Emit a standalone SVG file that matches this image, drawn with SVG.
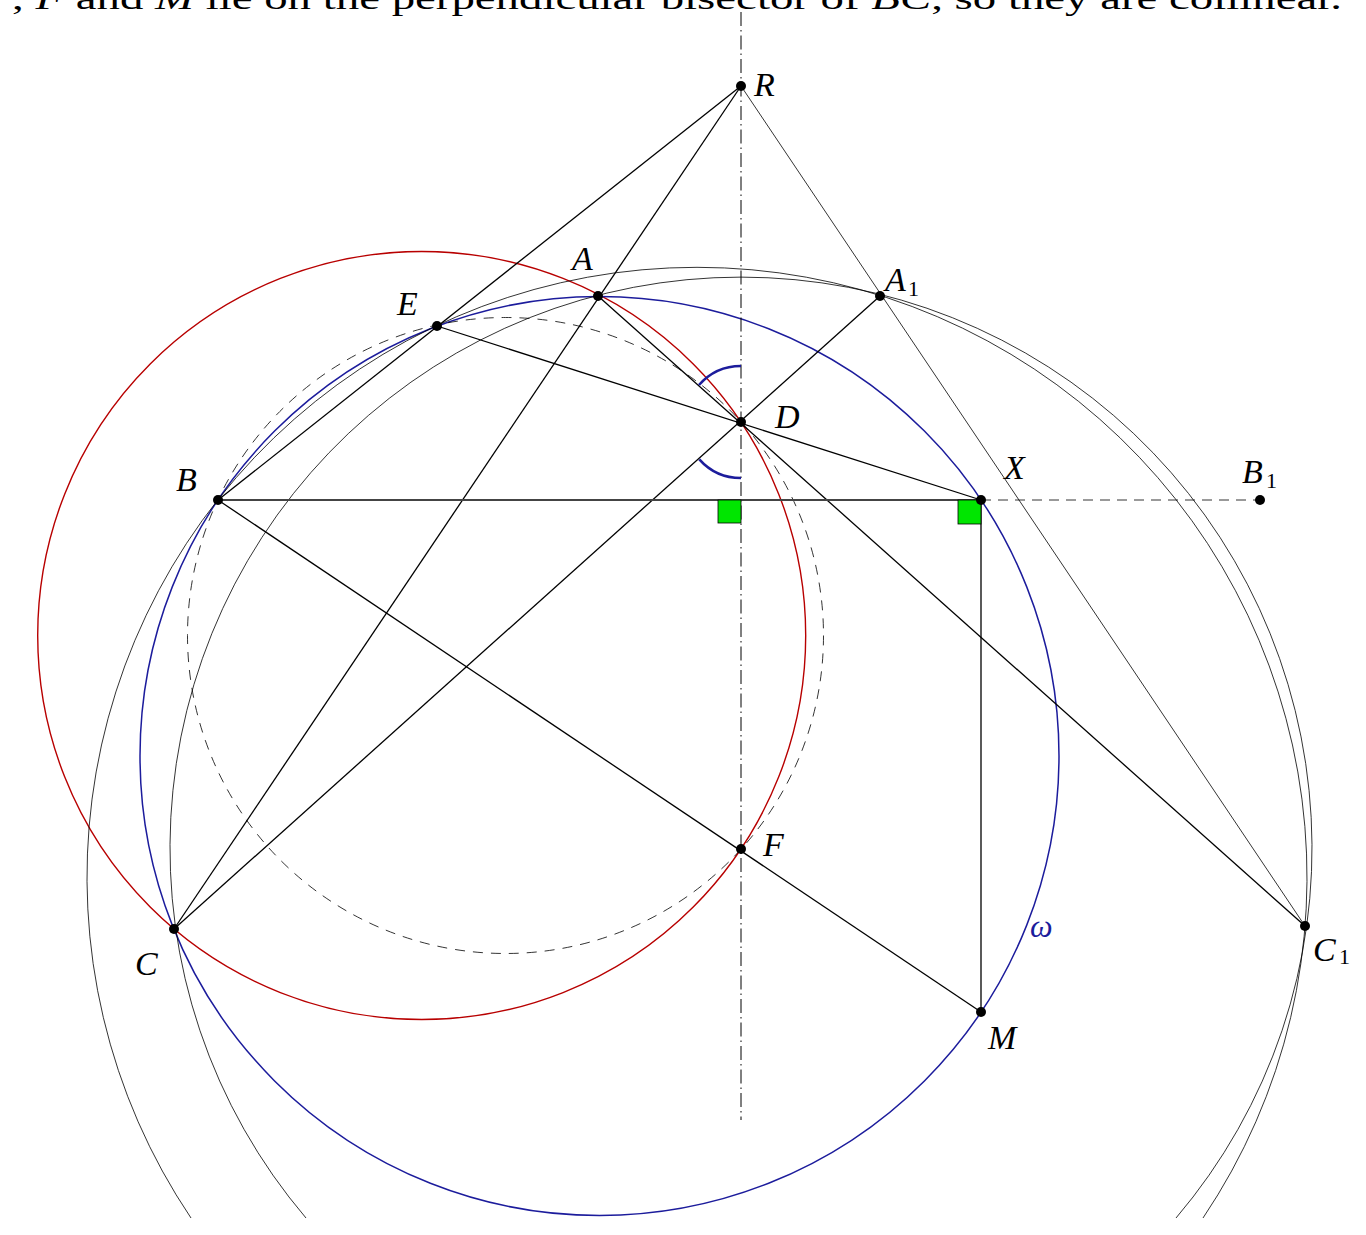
<svg xmlns="http://www.w3.org/2000/svg" width="1366" height="1235" viewBox="0 0 1366 1235">
<style>
.ln{stroke:#000;stroke-width:1.3;fill:none}
.thin{stroke:#000;stroke-width:0.8;fill:none}
.pt{fill:#000}
.lb{font-family:"Liberation Serif",serif;font-style:italic;font-size:34px;fill:#000}
.sub{font-family:"Liberation Serif",serif;font-size:22px;fill:#000}
.ra{fill:#00e600;stroke:#000;stroke-width:0.8}
.ang{stroke:#1c1c9c;stroke-width:2.6;fill:none}
</style>
<rect width="1366" height="1235" fill="#fff"/>
<text x="12" y="9" font-family="Liberation Serif, serif" font-size="31" textLength="1330" lengthAdjust="spacingAndGlyphs">, <tspan font-style="italic">F</tspan> and <tspan font-style="italic">M</tspan> lie on the perpendicular bisector of <tspan font-style="italic">BC</tspan>, so they are collinear.</text>
<g id="circles">
<circle id="red-circle" cx="421.7" cy="635.5" r="384" fill="none" stroke="#b80000" stroke-width="1.4"/>
<circle id="omega" cx="599.5" cy="756" r="459.5" fill="none" stroke="#1c1c9c" stroke-width="1.5"/>
<circle id="dashed-circle" cx="505.5" cy="635.5" r="318" fill="none" stroke="#000" stroke-width="0.8" stroke-dasharray="10 8"/>
<path id="arc1" class="thin" d="M306 1218 A571 571 0 1 1 1176 1218"/>
<path id="arc2" class="thin" d="M191 1218 A610 610 0 1 1 1203 1218"/>
</g>
<g id="axis">
<line x1="741" y1="12" x2="741" y2="1120" stroke="#000" stroke-width="1" stroke-dasharray="14 4 1.5 4"/>
</g>
<g id="connectors">
<line class="ln" x1="741" y1="86" x2="218" y2="500"/>
<line class="ln" x1="741" y1="86" x2="174" y2="929"/>
<line class="thin" x1="741" y1="86" x2="1305" y2="926"/>
<line class="ln" x1="437" y1="326" x2="981" y2="500"/>
<line class="ln" x1="598" y1="296" x2="1305" y2="926"/>
<line class="ln" x1="174" y1="929" x2="880" y2="296"/>
<line x1="218" y1="500" x2="981" y2="500" stroke="#444" stroke-width="1.8"/>
<line x1="981" y1="500" x2="1260" y2="500" stroke="#000" stroke-width="0.8" stroke-dasharray="10 7"/>
<line class="ln" x1="218" y1="500" x2="981" y2="1012"/>
<line class="ln" x1="981" y1="500" x2="981" y2="1012"/>
</g>
<g id="marks">
<rect class="ra" x="718" y="500" width="23" height="23"/>
<rect class="ra" x="958" y="500" width="23" height="24"/>
<path class="ang" d="M741 366 A56 56 0 0 0 699 385"/>
<path class="ang" d="M741 478 A56 56 0 0 1 699.3 459.3"/>
</g>
<g id="node-R"><circle class="pt" cx="741" cy="86" r="5"/><text class="lb" x="754" y="96">R</text></g>
<g id="node-A"><circle class="pt" cx="598" cy="296" r="5"/><text class="lb" x="572" y="270">A</text></g>
<g id="node-A1"><circle class="pt" cx="880" cy="296" r="5"/><text class="lb" x="885" y="291">A</text><text class="sub" x="908" y="296">1</text></g>
<g id="node-E"><circle class="pt" cx="437" cy="326" r="5"/><text class="lb" x="397" y="315">E</text></g>
<g id="node-D"><circle class="pt" cx="741" cy="422" r="5"/><text class="lb" x="775" y="428">D</text></g>
<g id="node-B"><circle class="pt" cx="218" cy="500" r="5"/><text class="lb" x="176" y="491">B</text></g>
<g id="node-X"><circle class="pt" cx="981" cy="500" r="5"/><text class="lb" x="1004" y="479">X</text></g>
<g id="node-B1"><circle class="pt" cx="1260" cy="500" r="5"/><text class="lb" x="1242" y="483">B</text><text class="sub" x="1266" y="488">1</text></g>
<g id="node-F"><circle class="pt" cx="741" cy="849" r="5"/><text class="lb" x="763" y="856">F</text></g>
<g id="node-C"><circle class="pt" cx="174" cy="929" r="5"/><text class="lb" x="135" y="975">C</text></g>
<g id="node-C1"><circle class="pt" cx="1305" cy="926" r="5"/><text class="lb" x="1313" y="961">C</text><text class="sub" x="1339" y="964">1</text></g>
<g id="node-M"><circle class="pt" cx="981" cy="1012" r="5"/><text class="lb" x="988" y="1049">M</text></g>
<g id="label-omega"><text x="1030" y="937" font-family="Liberation Serif, serif" font-style="italic" font-size="32" fill="#1c1c9c">ω</text></g>
</svg>
